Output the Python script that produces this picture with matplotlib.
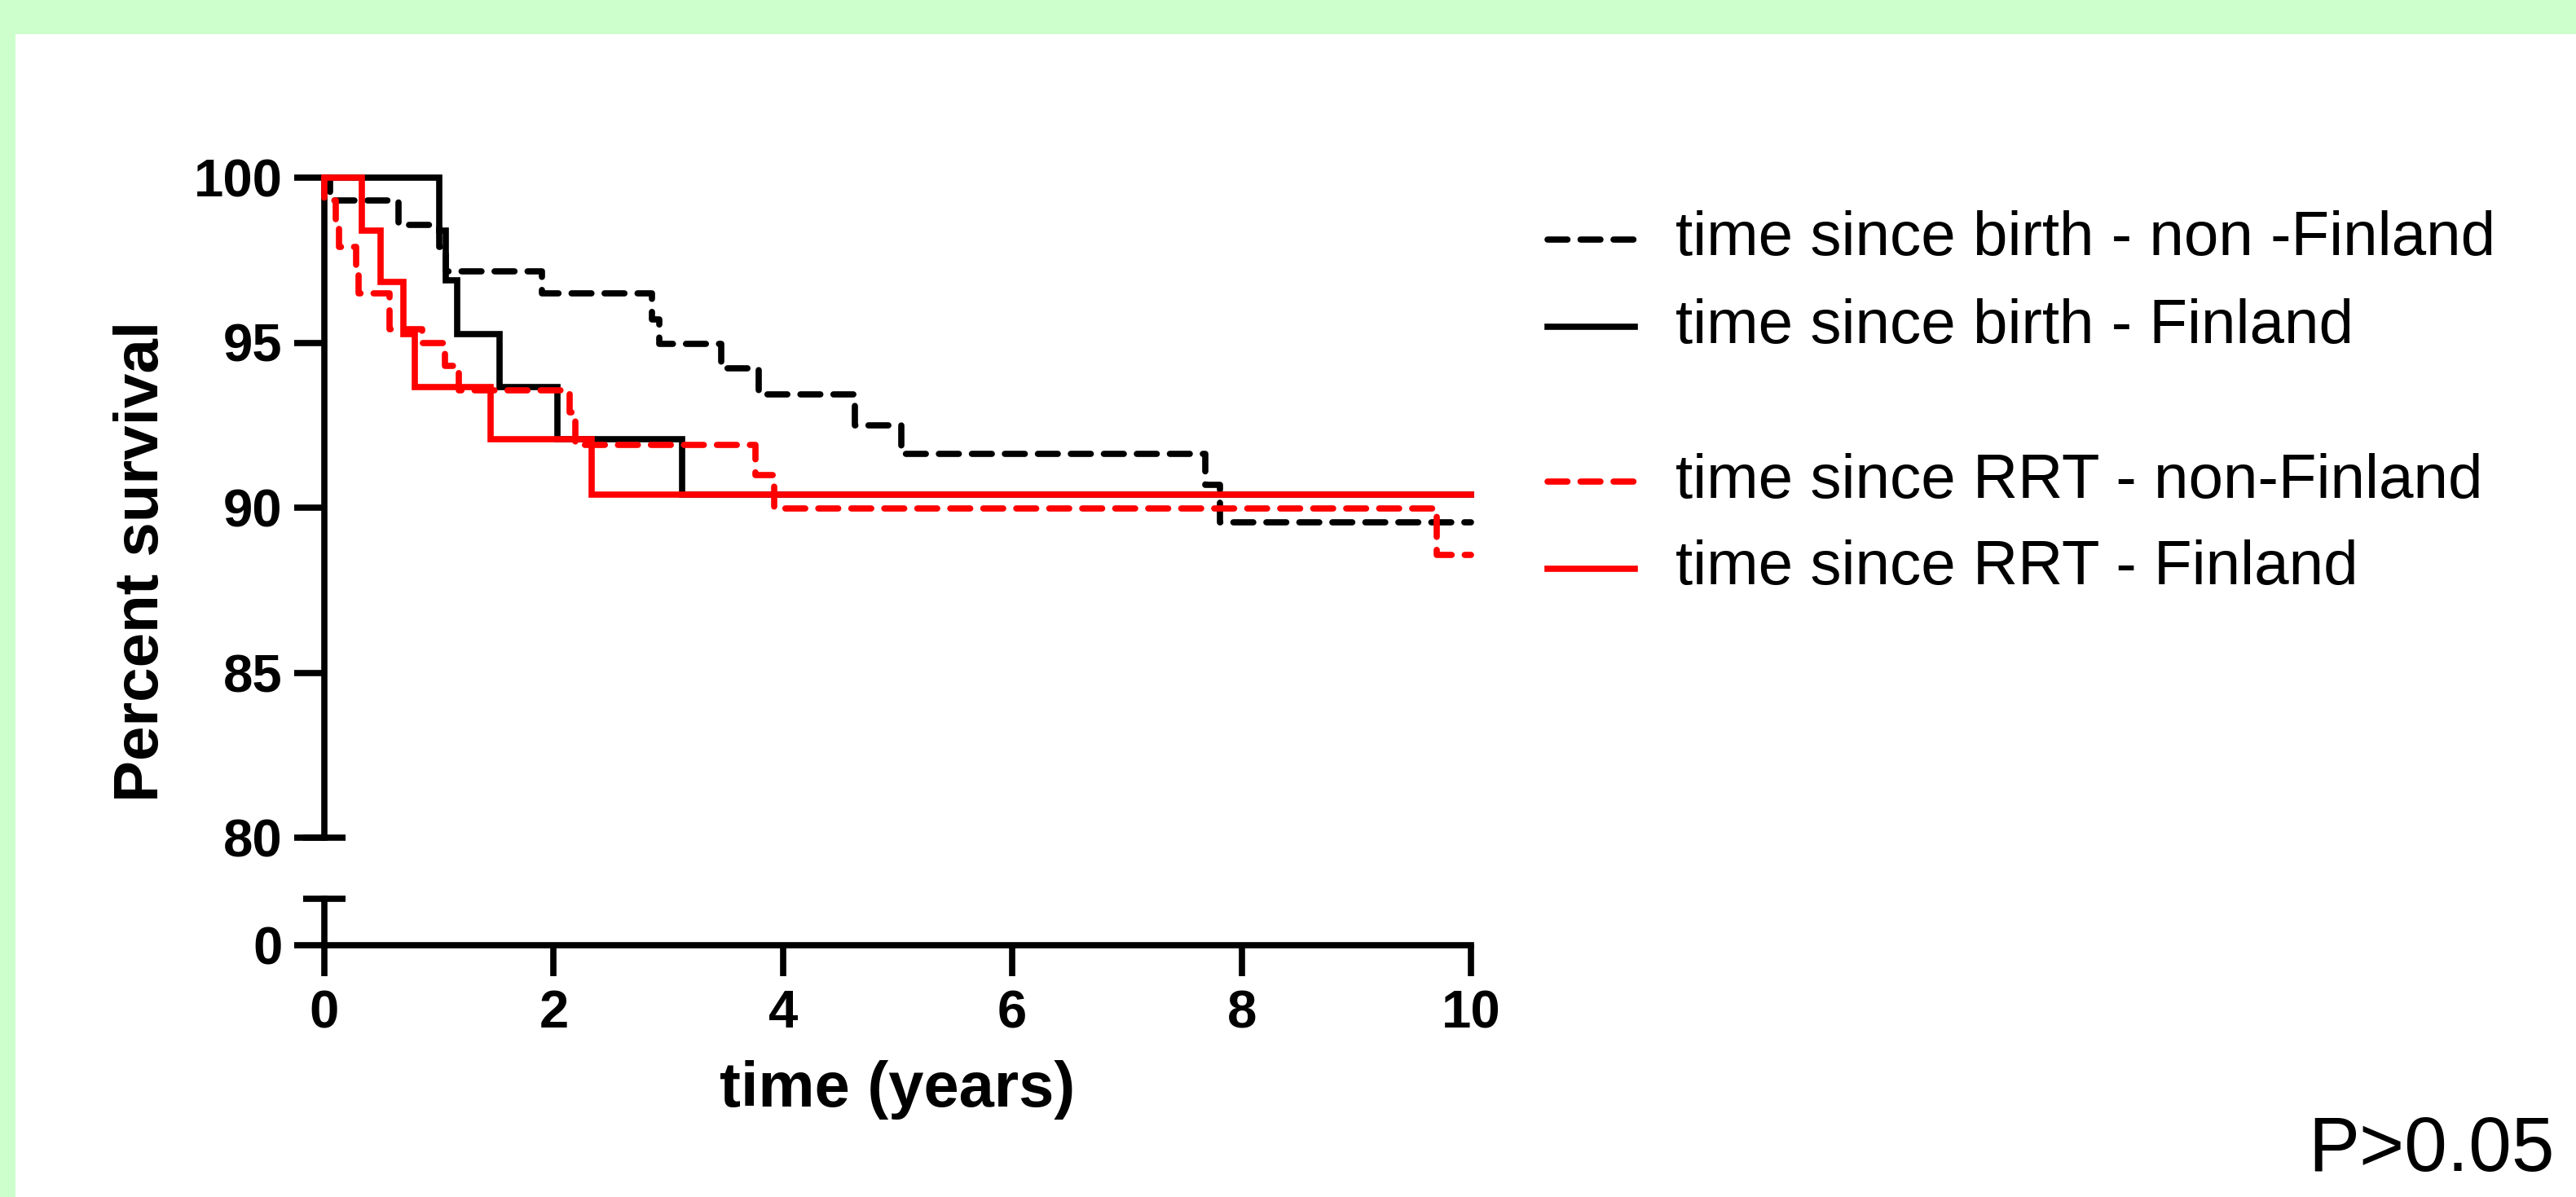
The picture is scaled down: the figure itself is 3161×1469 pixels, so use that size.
import matplotlib
matplotlib.use("Agg")
import matplotlib.pyplot as plt
from matplotlib.lines import Line2D
from matplotlib.patches import Rectangle

plt.rcParams['font.family'] = ['Liberation Sans', 'DejaVu Sans']

# ---------------- data ----------------
birth_nonfin_t = [0, 0.05, 0.65, 1.00, 1.06, 1.90, 2.86, 2.92, 3.46, 3.79, 4.63, 5.03, 7.68, 7.81, 10]
birth_nonfin_s = [100, 99.3, 98.57, 97.9, 97.17, 96.5, 95.7, 94.96, 94.22, 93.42, 92.5, 91.62, 90.7, 89.55, 89.55]

birth_fin_t = [0, 1.00, 1.06, 1.16, 1.53, 2.03, 3.12, 10]
birth_fin_s = [100, 98.4, 96.9, 95.25, 93.65, 92.07, 90.4, 90.4]

rrt_nonfin_t = [0, 0.0, 0.10, 0.13, 0.28, 0.30, 0.57, 0.85, 1.05, 1.17, 2.14, 2.19, 3.76, 3.92, 9.70, 10]
rrt_nonfin_s = [100, 99.3, 98.5, 97.9, 97.2, 96.5, 95.4, 95.0, 94.3, 93.55, 92.9, 91.9, 91.0, 89.97, 88.56, 88.56]

rrt_fin_t = [0, 0.33, 0.49, 0.69, 0.79, 1.45, 2.33, 10]
rrt_fin_s = [100, 98.4, 96.85, 95.25, 93.65, 92.07, 90.4, 90.4]

labels = ["time since birth - non -Finland", "time since birth - Finland",
          "time since RRT - non-Finland", "time since RRT - Finland"]
upper_yticks = [80, 85, 90, 95, 100]
lower_yticks = [0]
xticks = [0, 2, 4, 6, 8, 10]

# ---------------- figure ----------------
W, H = 3161, 1469
fig = plt.figure(figsize=(W / 100, H / 100), dpi=100, facecolor='white')

green = '#CCFFCC'
fig.patches.append(Rectangle((0, 1 - 42 / H), 1, 42 / H, transform=fig.transFigure,
                             facecolor=green, edgecolor='none', zorder=0))
fig.patches.append(Rectangle((0, 0), 19 / W, 1, transform=fig.transFigure,
                             facecolor=green, edgecolor='none', zorder=0))

x0, x1 = 398, 1805
y100, y80 = 218, 1028
ylow_top, ylow0 = 1103, 1160

ax = fig.add_axes([x0 / W, 1 - y80 / H, (x1 - x0) / W, (y80 - y100) / H])
ax2 = fig.add_axes([x0 / W, 1 - ylow0 / H, (x1 - x0) / W, (ylow0 - ylow_top) / H])

axis_lw = 5.5
line_lw = 5.5
for a in (ax, ax2):
    a.set_facecolor('none')
    a.set_xlim(0, 10)
    for sp in ('top', 'right'):
        a.spines[sp].set_visible(False)
    a.spines['left'].set_linewidth(axis_lw)
    a.spines['bottom'].set_linewidth(axis_lw)
    a.tick_params(axis='both', width=axis_lw, length=27, direction='out', pad=10,
                  labelsize=47)

ax.spines['bottom'].set_visible(False)
ax.set_ylim(80, 100)
ax.set_yticks(upper_yticks)
ax.set_xticks([])
ax2.set_ylim(0, 1)
ax2.set_yticks(lower_yticks)
ax2.set_xticks(xticks)
ax2.tick_params(axis='x', pad=12)
for a in (ax, ax2):
    for lab in a.get_xticklabels() + a.get_yticklabels():
        lab.set_fontweight('bold')

# caps at the broken axis ends
ax.plot([0], [0], marker='_', ms=38, mew=axis_lw, color='k', transform=ax.transAxes, clip_on=False)
ax2.plot([0], [1], marker='_', ms=38, mew=axis_lw, color='k', transform=ax2.transAxes, clip_on=False)

dash = (3.2, 2.1)
styles = [
    dict(color='black', ls=(0, dash)),
    dict(color='black', ls='-'),
    dict(color='#FF0000', ls=(0, dash)),
    dict(color='#FF0000', ls='-'),
]
series = [(birth_nonfin_t, birth_nonfin_s), (birth_fin_t, birth_fin_s),
          (rrt_nonfin_t, rrt_nonfin_s), (rrt_fin_t, rrt_fin_s)]
for (t, s), st, z in zip(series, styles, [3, 2, 4, 5]):
    ax.step(t, s, where='post', lw=line_lw, color=st['color'], linestyle=st['ls'],
            clip_on=False, zorder=z, dash_capstyle='round', solid_joinstyle='miter')

# axis labels
fig.text(175 / W, 1 - 689 / H, 'Percent survival', rotation=90, ha='center', va='center',
         fontsize=55, fontweight='bold')
fig.text((x0 + x1) / 2 / W, 1 - 1337 / H, 'time (years)', ha='center', va='center',
         fontsize=56, fontweight='bold')

# legend (drawn manually)
rows = [294, 401, 591, 698]
for lab, st, ry in zip(labels, styles, rows):
    fig.add_artist(Line2D([1899 / W, 2006 / W], [1 - ry / H, 1 - ry / H],
                          transform=fig.transFigure, color=st['color'],
                          linestyle=st['ls'], lw=line_lw, dash_capstyle='round'))
    fig.text(2056 / W, 1 - ry / H, lab, ha='left', va='center', fontsize=55)

fig.text(3135 / W, 1 - 1437 / H, 'P>0.05', ha='right', va='baseline', fontsize=68)

fig.savefig('out.png', dpi=100, facecolor='white')
